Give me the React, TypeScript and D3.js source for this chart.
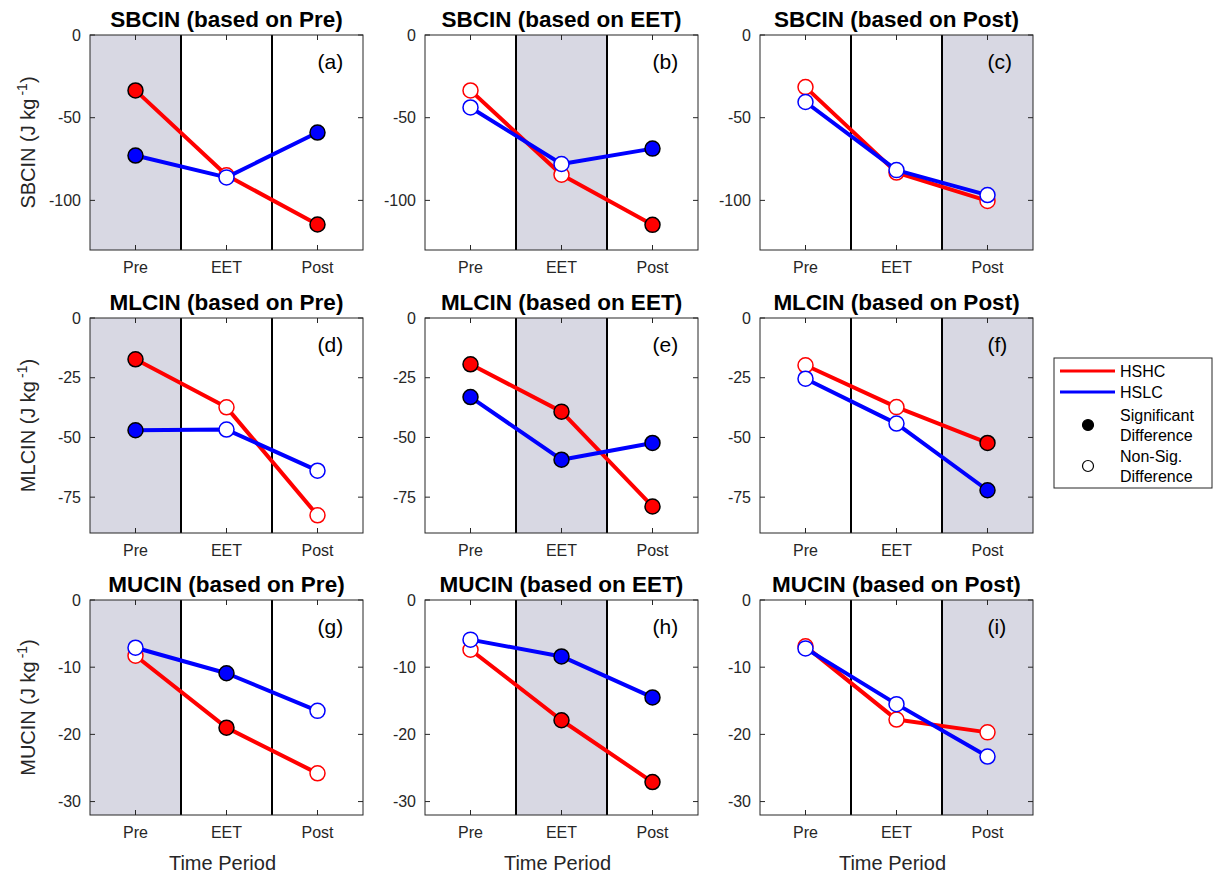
import React, { useEffect, useRef } from "react";
import * as d3 from "d3";

const periods = ["Pre", "EET", "Post"];
const variables = ["SBCIN", "MLCIN", "MUCIN"];
const panelLetters = ["a", "b", "c", "d", "e", "f", "g", "h", "i"];
const yDomains = [[-130, 0], [-90, 0], [-32, 0]];
const yTicks = [[-100, -50, 0], [-75, -50, -25, 0], [-30, -20, -10, 0]];

// one row per panel (a..i), values at Pre, EET, Post
const hshcValues = [
  [-33.5, -84.8, -114.6],
  [-33.5, -84.5, -114.8],
  [-31.5, -83.2, -100.3],
  [-17.3, -37.4, -82.6],
  [-19.4, -39.2, -78.9],
  [-19.8, -37.3, -52.3],
  [-8.3, -19.0, -25.8],
  [-7.4, -17.9, -27.1],
  [-6.9, -17.8, -19.7],
];
const hslcValues = [
  [-72.9, -86.1, -59.0],
  [-43.8, -78.0, -68.7],
  [-40.5, -81.7, -96.8],
  [-47.0, -46.7, -63.9],
  [-33.1, -59.3, -52.3],
  [-25.4, -44.2, -72.1],
  [-7.1, -10.9, -16.5],
  [-5.9, -8.4, -14.5],
  [-7.2, -15.5, -23.3],
];
// 1 = significant difference between HSHC and HSLC
const significant = [
  [1, 0, 1],
  [0, 0, 1],
  [0, 0, 0],
  [1, 0, 0],
  [1, 1, 1],
  [0, 0, 1],
  [0, 1, 0],
  [0, 1, 1],
  [0, 0, 0],
];

const seriesNames = ["HSHC", "HSLC"];
const seriesColors = { HSHC: "#ff0000", HSLC: "#0000ff" };

const FONT = "'Liberation Sans', Arial, sans-serif";
const AXIS_COLOR = "#262626";

export default function App() {
  const svgRef = useRef(null);

  useEffect(() => {
    const width = 1214;
    const height = 877;
    const colLefts = [90, 425, 760];
    const rowTops = [35, 318, 600];
    const plotW = 273;
    const plotH = 215;

    const svg = d3.select(svgRef.current);
    svg.selectAll("*").remove();
    svg.attr("width", width).attr("height", height);

    for (let row = 0; row < 3; row++) {
      for (let col = 0; col < 3; col++) {
        const idx = row * 3 + col;
        const g = svg.append("g")
          .attr("transform", `translate(${colLefts[col]},${rowTops[row]})`);

        const xScale = d3.scaleLinear().domain([0.5, 3.5]).range([0, plotW]);
        const yScale = d3.scaleLinear().domain(yDomains[row]).range([plotH, 0]);

        // white background + shaded reference period
        g.append("rect")
          .attr("width", plotW).attr("height", plotH).attr("fill", "white");
        g.append("rect")
          .attr("x", xScale(col + 0.5))
          .attr("y", 0)
          .attr("width", xScale(col + 1.5) - xScale(col + 0.5))
          .attr("height", plotH)
          .attr("fill", "#d8d8e3");

        // period dividers
        [1.5, 2.5].forEach(v => {
          g.append("line")
            .attr("x1", xScale(v)).attr("x2", xScale(v))
            .attr("y1", 0).attr("y2", plotH)
            .attr("stroke", "black").attr("stroke-width", 2);
        });

        // ticks (inside, both sides)
        yTicks[row].forEach(t => {
          const y = yScale(t);
          g.append("line").attr("x1", 0).attr("x2", 5).attr("y1", y).attr("y2", y)
            .attr("stroke", AXIS_COLOR);
          g.append("line").attr("x1", plotW - 5).attr("x2", plotW).attr("y1", y).attr("y2", y)
            .attr("stroke", AXIS_COLOR);
          g.append("text")
            .attr("x", -9).attr("y", y)
            .attr("dy", "0.35em")
            .attr("text-anchor", "end")
            .attr("font-size", 16)
            .attr("fill", AXIS_COLOR)
            .text(t);
        });
        periods.forEach((p, i) => {
          const x = xScale(i + 1);
          g.append("line").attr("x1", x).attr("x2", x).attr("y1", plotH).attr("y2", plotH - 5)
            .attr("stroke", AXIS_COLOR);
          g.append("line").attr("x1", x).attr("x2", x).attr("y1", 0).attr("y2", 5)
            .attr("stroke", AXIS_COLOR);
          g.append("text")
            .attr("x", x).attr("y", plotH + 17)
            .attr("dy", "0.35em")
            .attr("text-anchor", "middle")
            .attr("font-size", 16)
            .attr("fill", AXIS_COLOR)
            .text(p);
        });

        // series
        const line = d3.line()
          .x((d, i) => xScale(i + 1))
          .y(d => yScale(d));

        [hshcValues[idx], hslcValues[idx]].forEach((vals, s) => {
          const color = seriesColors[seriesNames[s]];
          g.append("path")
            .datum(vals)
            .attr("d", line)
            .attr("fill", "none")
            .attr("stroke", color)
            .attr("stroke-width", 4)
            .attr("stroke-linejoin", "round");
          g.selectAll(`.pt-${s}`)
            .data(vals)
            .enter()
            .append("circle")
            .attr("class", `pt-${s}`)
            .attr("cx", (d, i) => xScale(i + 1))
            .attr("cy", d => yScale(d))
            .attr("r", 7.5)
            .attr("fill", (d, i) => significant[idx][i] ? color : "white")
            .attr("stroke", (d, i) => significant[idx][i] ? "black" : color)
            .attr("stroke-width", 1.5);
        });

        // box
        g.append("rect")
          .attr("width", plotW).attr("height", plotH)
          .attr("fill", "none")
          .attr("stroke", AXIS_COLOR)
          .attr("stroke-width", 1);

        // panel letter
        g.append("text")
          .attr("x", xScale(3))
          .attr("y", 27)
          .attr("dy", "0.35em")
          .attr("font-size", 21)
          .attr("fill", "black")
          .text(`(${panelLetters[idx]})`);

        // title
        g.append("text")
          .attr("x", plotW / 2)
          .attr("y", -16)
          .attr("dy", "0.35em")
          .attr("text-anchor", "middle")
          .attr("font-size", 22.5)
          .attr("font-weight", "bold")
          .attr("fill", "black")
          .text(`${variables[row]} (based on ${periods[col]})`);

        if (col === 0) {
          const lab = g.append("text")
            .attr("transform", `translate(-62,${plotH / 2}) rotate(-90)`)
            .attr("text-anchor", "middle")
            .attr("dy", "0.35em")
            .attr("font-size", 20)
            .attr("fill", AXIS_COLOR);
          lab.append("tspan").text(`${variables[row]} (J kg`);
          lab.append("tspan").attr("font-size", 14).attr("dy", "-0.6em").attr("dx", 3).text("-1");
          lab.append("tspan").attr("dy", "0.42em").text(")");
        }
        if (row === 2) {
          g.append("text")
            .attr("x", plotW / 2 - 4)
            .attr("y", plotH + 48)
            .attr("dy", "0.35em")
            .attr("text-anchor", "middle")
            .attr("font-size", 20)
            .attr("fill", AXIS_COLOR)
            .text("Time Period");
        }
      }
    }

    // legend
    const legend = svg.append("g").attr("transform", "translate(1054,358)");
    legend.append("rect")
      .attr("width", 158).attr("height", 130)
      .attr("fill", "white")
      .attr("stroke", AXIS_COLOR)
      .attr("stroke-width", 1);
    seriesNames.forEach((name, i) => {
      const y = 13 + i * 21;
      legend.append("line")
        .attr("x1", 6).attr("x2", 61).attr("y1", y).attr("y2", y)
        .attr("stroke", seriesColors[name]).attr("stroke-width", 3);
      legend.append("text")
        .attr("x", 66).attr("y", y).attr("dy", "0.35em")
        .attr("font-size", 16).attr("fill", "black")
        .text(name);
    });
    const markerItems = [
      { filled: true, lines: ["Significant", "Difference"], y: 67 },
      { filled: false, lines: ["Non-Sig.", "Difference"], y: 108 },
    ];
    markerItems.forEach(m => {
      legend.append("circle")
        .attr("cx", 34).attr("cy", m.y)
        .attr("r", 5.5)
        .attr("fill", m.filled ? "black" : "white")
        .attr("stroke", "black").attr("stroke-width", 1.2);
      m.lines.forEach((t, j) => {
        legend.append("text")
          .attr("x", 66).attr("y", m.y - 10 + j * 20).attr("dy", "0.35em")
          .attr("font-size", 16).attr("fill", "black")
          .text(t);
      });
    });
  }, []);

  return (
    <svg
      ref={svgRef}
      style={{ position: "absolute", left: 0, top: 0, fontFamily: FONT, background: "white" }}
    />
  );
}
